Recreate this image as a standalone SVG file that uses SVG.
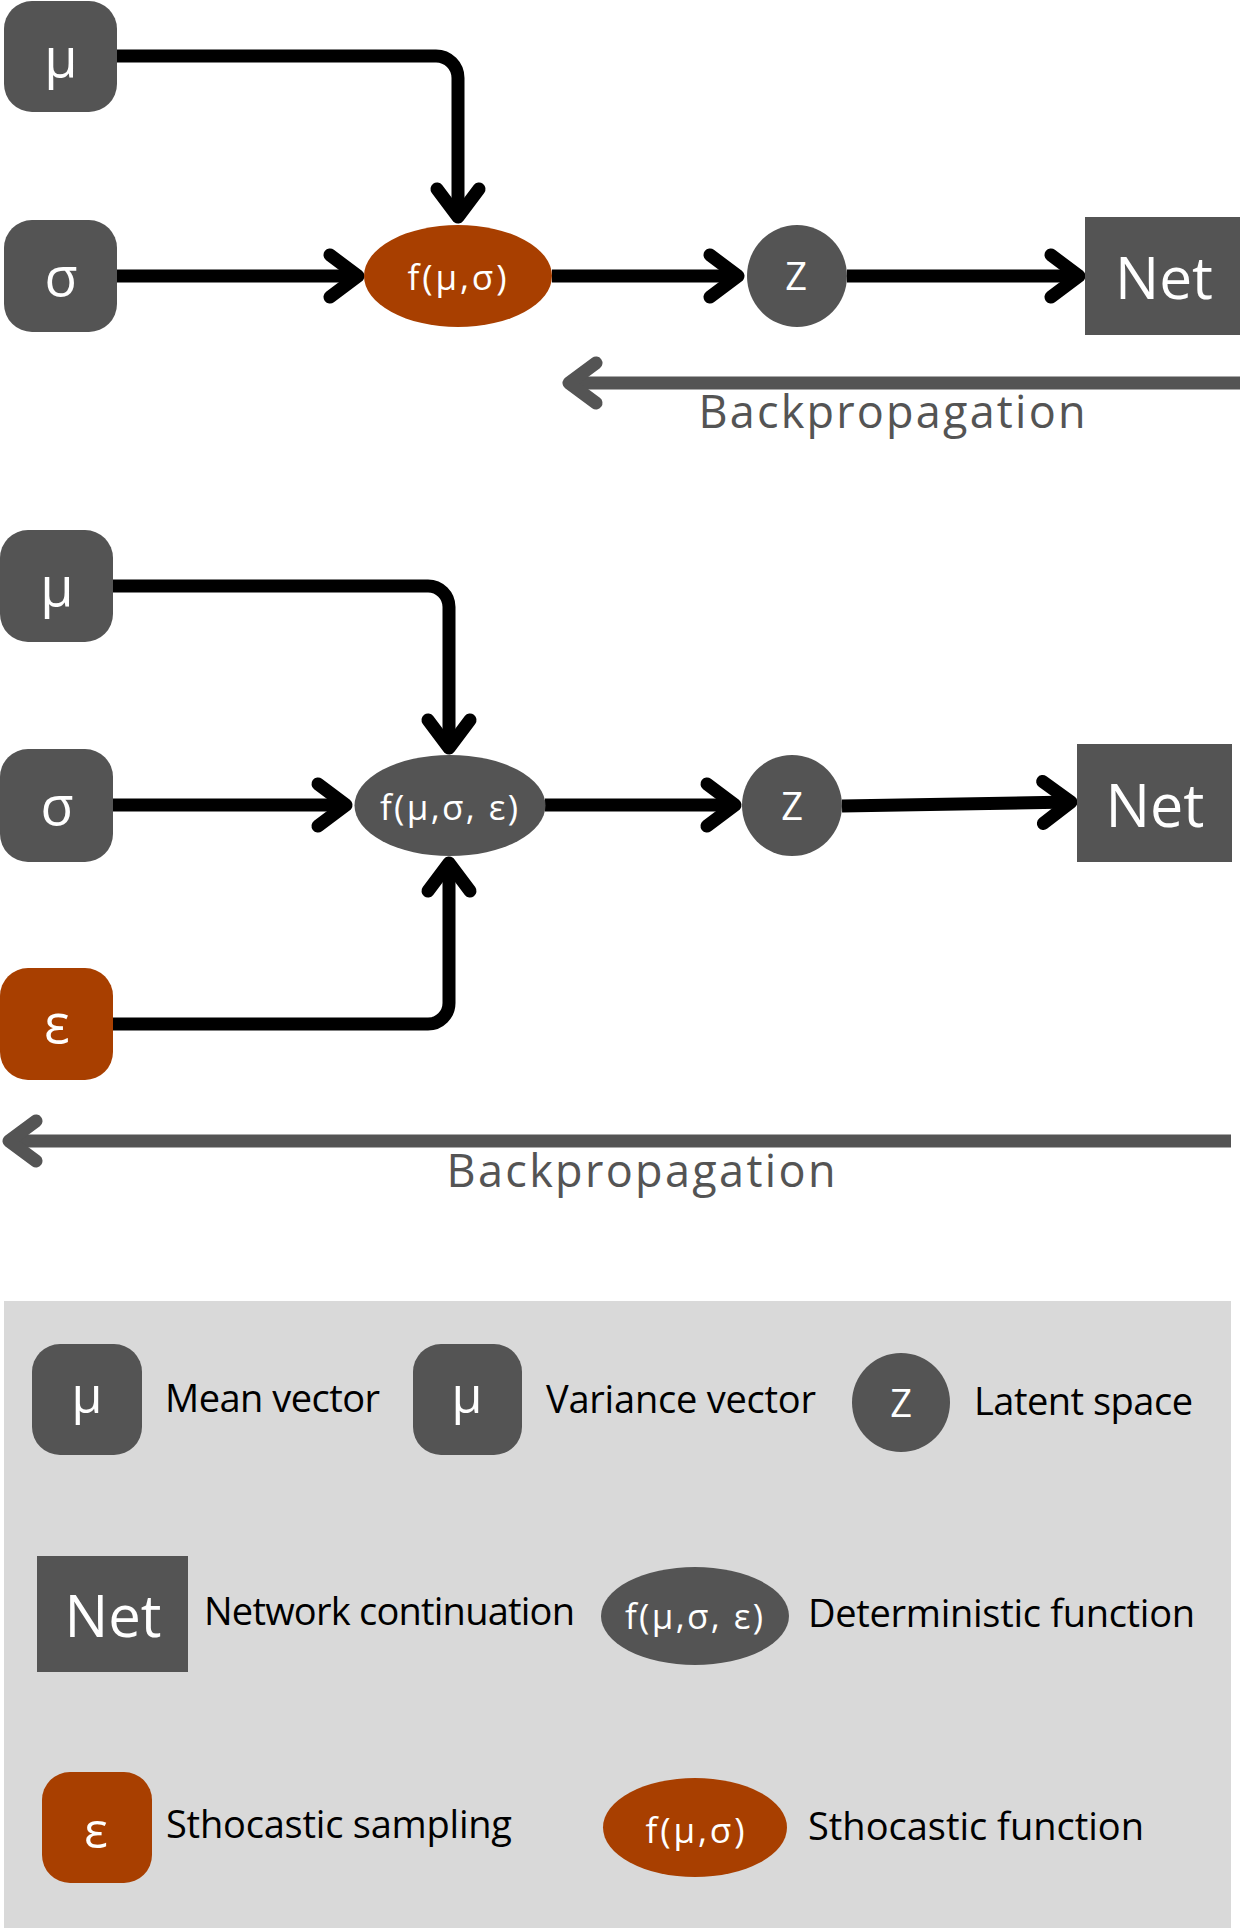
<svg xmlns="http://www.w3.org/2000/svg" width="1240" height="1931" viewBox="0 0 1240 1931">
<style>
.dk{fill:#545454}
.rust{fill:#a83f00}
.lbl{font-family:"Open Sans","Noto Sans",sans-serif;fill:#ffffff;text-anchor:middle}
.leg{font-family:"Open Sans","Noto Sans",sans-serif;fill:#000000;font-size:38px}
.bp{font-family:"Open Sans","Noto Sans",sans-serif;fill:#545454;font-size:45px;text-anchor:middle}
.edge{fill:none;stroke:#000;stroke-width:13;stroke-linejoin:round}
.back{fill:none;stroke:#545454;stroke-width:13}
</style>
<defs>
<marker id="chev" markerUnits="userSpaceOnUse" viewBox="-40 -32 52 64" refX="0" refY="0" markerWidth="52" markerHeight="64" orient="auto">
<path d="M-28,-21 L0,0 L-28,21" fill="none" stroke="#000" stroke-width="13" stroke-linecap="round" stroke-linejoin="round"/>
</marker>
<marker id="chevg" markerUnits="userSpaceOnUse" viewBox="-40 -32 52 64" refX="0" refY="0" markerWidth="52" markerHeight="64" orient="auto">
<path d="M-27,-20 L0,0 L-27,20" fill="none" stroke="#545454" stroke-width="13" stroke-linecap="round" stroke-linejoin="round"/>
</marker>
</defs>
<rect width="1240" height="1931" fill="#ffffff"/>

<g id="connectors">
<path class="edge" d="M117,56 H436 A22,22 0 0 1 458,78 V217" marker-end="url(#chev)"/>
<path class="edge" d="M117,276 H358" marker-end="url(#chev)"/>
<path class="edge" d="M552,276 H738" marker-end="url(#chev)"/>
<path class="edge" d="M847,276 H1079" marker-end="url(#chev)"/>
<path class="back" d="M1240,383 H569" marker-end="url(#chevg)"/>

<path class="edge" d="M113,586 H428 A21,21 0 0 1 449,607 V748" marker-end="url(#chev)"/>
<path class="edge" d="M113,805 H346" marker-end="url(#chev)"/>
<path class="edge" d="M113,1024 H428 A21,21 0 0 0 449,1003 V863" marker-end="url(#chev)"/>
<path class="edge" d="M545,805 H735" marker-end="url(#chev)"/>
<path class="edge" d="M842,806 L1071,802" marker-end="url(#chev)"/>
<path class="back" d="M1231,1141 H9" marker-end="url(#chevg)"/>
</g>

<g id="d1-mu"><rect class="dk" x="4" y="1" width="113" height="111" rx="28"/><text class="lbl" x="61" y="77" font-size="54">μ</text></g>
<g id="d1-sigma"><rect class="dk" x="4" y="220" width="113" height="112" rx="28"/><text class="lbl" x="61" y="296" font-size="54">σ</text></g>
<g id="d1-f"><ellipse class="rust" cx="458" cy="276" rx="94" ry="51"/><text class="lbl" x="457" y="290" font-size="35" textLength="99" lengthAdjust="spacing">f(μ,σ)</text></g>
<g id="d1-z"><ellipse class="dk" cx="797" cy="276" rx="50" ry="51"/><text class="lbl" x="796" y="290" font-size="38">Z</text></g>
<g id="d1-net"><rect class="dk" x="1085" y="217" width="155" height="118"/><text class="lbl" x="1164" y="299" font-size="58" textLength="98" lengthAdjust="spacingAndGlyphs">Net</text></g>
<g id="d1-bp"><text class="bp" x="892" y="428" textLength="387" lengthAdjust="spacing">Backpropagation</text></g>

<g id="d2-mu"><rect class="dk" x="0" y="530" width="113" height="112" rx="28"/><text class="lbl" x="57" y="606" font-size="54">μ</text></g>
<g id="d2-sigma"><rect class="dk" x="0" y="749" width="113" height="113" rx="28"/><text class="lbl" x="57" y="825" font-size="54">σ</text></g>
<g id="d2-eps"><rect class="rust" x="0" y="968" width="113" height="112" rx="28"/><text class="lbl" x="57" y="1043" font-size="54">ε</text></g>
<g id="d2-f"><ellipse class="dk" cx="450" cy="805.5" rx="95.5" ry="50.5"/><text class="lbl" x="449" y="820" font-size="35" textLength="138" lengthAdjust="spacing">f(μ,σ, ε)</text></g>
<g id="d2-z"><ellipse class="dk" cx="792" cy="805.5" rx="50" ry="50.5"/><text class="lbl" x="792" y="820" font-size="38">Z</text></g>
<g id="d2-net"><rect class="dk" x="1077" y="744" width="155" height="118"/><text class="lbl" x="1155" y="827" font-size="60" textLength="99" lengthAdjust="spacingAndGlyphs">Net</text></g>
<g id="d2-bp"><text class="bp" x="641" y="1187" textLength="389" lengthAdjust="spacing">Backpropagation</text></g>

<g id="legend">
<rect x="4" y="1301" width="1227" height="627" fill="#d9d9d9"/>
<g id="leg-mean"><rect class="dk" x="32" y="1344" width="110" height="111" rx="28"/><text class="lbl" x="87" y="1413" font-size="50">μ</text><text class="leg" x="165" y="1412" textLength="215" lengthAdjust="spacing">Mean vector</text></g>
<g id="leg-var"><rect class="dk" x="413" y="1344" width="109" height="111" rx="28"/><text class="lbl" x="467" y="1413" font-size="50">μ</text><text class="leg" x="546" y="1413" textLength="270" lengthAdjust="spacing">Variance vector</text></g>
<g id="leg-z"><ellipse class="dk" cx="901" cy="1402.5" rx="49" ry="49.5"/><text class="lbl" x="901" y="1417" font-size="38">Z</text><text class="leg" x="974" y="1415" textLength="219" lengthAdjust="spacing">Latent space</text></g>
<g id="leg-net"><rect class="dk" x="37" y="1556" width="151" height="116"/><text class="lbl" x="113" y="1637" font-size="58" textLength="97" lengthAdjust="spacingAndGlyphs">Net</text><text class="leg" x="204" y="1625" textLength="371" lengthAdjust="spacing">Network continuation</text></g>
<g id="leg-det"><ellipse class="dk" cx="695" cy="1616" rx="94" ry="49"/><text class="lbl" x="694" y="1629" font-size="35" textLength="138" lengthAdjust="spacing">f(μ,σ, ε)</text><text class="leg" x="808" y="1627" textLength="387" lengthAdjust="spacing">Deterministic function</text></g>
<g id="leg-samp"><rect class="rust" x="42" y="1772" width="110" height="111" rx="28"/><text class="lbl" x="96" y="1848" font-size="50">ε</text><text class="leg" x="166" y="1838" textLength="346" lengthAdjust="spacing">Sthocastic sampling</text></g>
<g id="leg-stoch"><ellipse class="rust" cx="695" cy="1827.5" rx="92" ry="49.5"/><text class="lbl" x="695" y="1843" font-size="35" textLength="99" lengthAdjust="spacing">f(μ,σ)</text><text class="leg" x="808" y="1840" textLength="336" lengthAdjust="spacing">Sthocastic function</text></g>
</g>
</svg>
